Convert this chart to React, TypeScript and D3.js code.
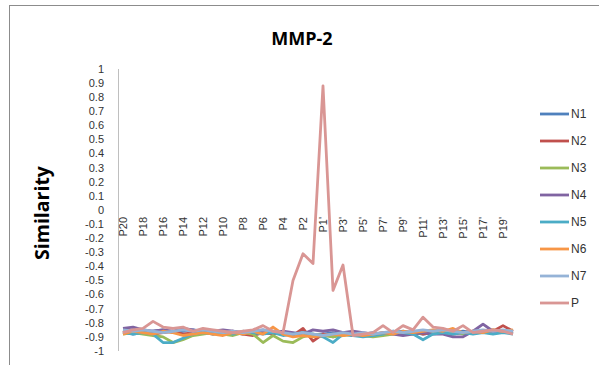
import * as d3 from 'd3';
import React, { useEffect, useRef } from 'react';

const categories: string[] = [
  'P20', 'P19', 'P18', 'P17', 'P16', 'P15', 'P14', 'P13', 'P12', 'P11',
  'P10', 'P9', 'P8', 'P7', 'P6', 'P5', 'P4', 'P3', 'P2', 'P1',
  "P1'", "P2'", "P3'", "P4'", "P5'", "P6'", "P7'", "P8'", "P9'", "P10'",
  "P11'", "P12'", "P13'", "P14'", "P15'", "P16'", "P17'", "P18'", "P19'", "P20'",
];

const seriesNames = ['N1', 'N2', 'N3', 'N4', 'N5', 'N6', 'N7', 'P'];
const seriesColors = ['#4F81BD', '#C0504D', '#9BBB59', '#8064A2', '#4BACC6', '#F79646', '#95B3D7', '#D99694'];

const N1 = [-0.86, -0.88, -0.87, -0.86, -0.85, -0.87, -0.86, -0.85, -0.86, -0.87,
  -0.86, -0.87, -0.88, -0.86, -0.87, -0.88, -0.87, -0.88, -0.87, -0.89,
  -0.88, -0.87, -0.88, -0.89, -0.88, -0.87, -0.88, -0.87, -0.86, -0.87,
  -0.88, -0.87, -0.86, -0.87, -0.86, -0.87, -0.86, -0.87, -0.86, -0.87];
const N2 = [-0.87, -0.85, -0.86, -0.88, -0.87, -0.86, -0.88, -0.87, -0.86, -0.88,
  -0.87, -0.86, -0.88, -0.89, -0.87, -0.88, -0.86, -0.89, -0.84, -0.93,
  -0.88, -0.90, -0.87, -0.89, -0.88, -0.89, -0.88, -0.87, -0.88, -0.86,
  -0.88, -0.87, -0.86, -0.88, -0.87, -0.86, -0.87, -0.86, -0.82, -0.86];
const N3 = [-0.88, -0.87, -0.88, -0.89, -0.90, -0.94, -0.92, -0.89, -0.88, -0.87,
  -0.88, -0.89, -0.87, -0.88, -0.94, -0.89, -0.93, -0.94, -0.90, -0.88,
  -0.89, -0.90, -0.89, -0.88, -0.89, -0.90, -0.89, -0.88, -0.87, -0.88,
  -0.87, -0.86, -0.87, -0.86, -0.88, -0.87, -0.86, -0.85, -0.87, -0.86];
const N4 = [-0.84, -0.83, -0.85, -0.86, -0.85, -0.86, -0.84, -0.85, -0.87, -0.86,
  -0.85, -0.86, -0.87, -0.86, -0.85, -0.87, -0.86, -0.87, -0.88, -0.85,
  -0.86, -0.85, -0.87, -0.86, -0.87, -0.88, -0.87, -0.88, -0.89, -0.88,
  -0.87, -0.88, -0.88, -0.90, -0.90, -0.86, -0.81, -0.86, -0.87, -0.86];
const N5 = [-0.87, -0.88, -0.87, -0.88, -0.94, -0.94, -0.91, -0.88, -0.87, -0.88,
  -0.87, -0.88, -0.86, -0.87, -0.88, -0.87, -0.89, -0.88, -0.87, -0.88,
  -0.90, -0.94, -0.88, -0.89, -0.90, -0.89, -0.88, -0.86, -0.87, -0.88,
  -0.92, -0.88, -0.87, -0.88, -0.87, -0.88, -0.87, -0.88, -0.87, -0.88];
const N6 = [-0.88, -0.86, -0.87, -0.88, -0.86, -0.87, -0.89, -0.88, -0.87, -0.88,
  -0.89, -0.87, -0.88, -0.86, -0.88, -0.83, -0.88, -0.90, -0.89, -0.90,
  -0.89, -0.88, -0.89, -0.88, -0.89, -0.88, -0.87, -0.88, -0.86, -0.87,
  -0.86, -0.85, -0.86, -0.84, -0.87, -0.86, -0.87, -0.85, -0.86, -0.85];
const N7 = [-0.85, -0.86, -0.85, -0.86, -0.87, -0.86, -0.85, -0.86, -0.85, -0.86,
  -0.87, -0.86, -0.87, -0.86, -0.85, -0.86, -0.87, -0.88, -0.87, -0.88,
  -0.89, -0.88, -0.87, -0.88, -0.87, -0.88, -0.87, -0.86, -0.87, -0.86,
  -0.85, -0.86, -0.85, -0.86, -0.87, -0.86, -0.85, -0.86, -0.85, -0.86];
const P = [-0.87, -0.85, -0.84, -0.79, -0.83, -0.84, -0.83, -0.86, -0.84, -0.85,
  -0.86, -0.87, -0.86, -0.85, -0.82, -0.86, -0.87, -0.50, -0.31, -0.38,
  0.88, -0.57, -0.39, -0.89, -0.88, -0.87, -0.82, -0.87, -0.82, -0.85,
  -0.76, -0.83, -0.84, -0.86, -0.82, -0.87, -0.86, -0.85, -0.86, -0.88];

const seriesValues = [N1, N2, N3, N4, N5, N6, N7, P];

const yTicks = [1, 0.9, 0.8, 0.7, 0.6, 0.5, 0.4, 0.3, 0.2, 0.1, 0,
  -0.1, -0.2, -0.3, -0.4, -0.5, -0.6, -0.7, -0.8, -0.9, -1];

const W = 599;
const H = 365;
const font = '"Liberation Sans Narrow", "Liberation Sans", Arial, sans-serif';

const App = () => {
  const ref = useRef<SVGSVGElement>(null);

  useEffect(() => {
    const svg = d3.select(ref.current);
    svg.selectAll('*').remove();

    svg.append('rect').attr('width', W).attr('height', H).attr('fill', '#fff');
    // chart frame
    svg.append('rect')
      .attr('x', 9.5).attr('y', 5.5)
      .attr('width', W + 10).attr('height', H + 10)
      .attr('fill', 'none').attr('stroke', '#8c8c8c').attr('stroke-width', 1);

    const x = d3.scaleBand<string>().domain(categories).range([118, 518]);
    const y = d3.scaleLinear().domain([-1, 1]).range([351, 69]);
    const cx = (c: string) => (x(c) as number) + x.bandwidth() / 2;

    svg.append('text')
      .attr('x', 302).attr('y', 45)
      .attr('text-anchor', 'middle')
      .attr('font-family', '"Open Sans", sans-serif')
      .attr('font-weight', 'bold').attr('font-size', 18)
      .text('MMP-2');

    svg.append('text')
      .attr('transform', `translate(49,${y(0) + 3}) rotate(-90)`)
      .attr('text-anchor', 'middle')
      .attr('font-family', '"Open Sans", sans-serif')
      .attr('font-weight', 'bold').attr('font-size', 19.5)
      .text('Similarity');

    // y axis
    svg.append('line')
      .attr('x1', 118.5).attr('x2', 118.5)
      .attr('y1', y(1)).attr('y2', y(-1))
      .attr('stroke', '#bfbfbf');

    svg.append('g').selectAll('text')
      .data(yTicks)
      .enter().append('text')
      .attr('x', 104)
      .attr('y', d => y(d))
      .attr('dy', '0.35em')
      .attr('text-anchor', 'end')
      .attr('font-family', font).attr('font-size', 11)
      .attr('fill', '#333')
      .text(d => String(d));

    // category labels, every other one
    svg.append('g').selectAll('text')
      .data(categories.filter((_, i) => i % 2 === 0))
      .enter().append('text')
      .attr('transform', d => `translate(${cx(d) + 4},${y(0) + 7}) rotate(-90)`)
      .attr('text-anchor', 'end')
      .attr('font-family', font).attr('font-size', 11)
      .attr('fill', '#333')
      .text(d => d);

    const line = d3.line<number>()
      .x((_, i) => cx(categories[i]))
      .y(d => y(d));

    seriesValues.forEach((vals, k) => {
      svg.append('path')
        .datum(vals)
        .attr('d', line)
        .attr('fill', 'none')
        .attr('stroke', seriesColors[k])
        .attr('stroke-width', 2.8)
        .attr('stroke-linejoin', 'round');
    });

    // legend
    const lg = svg.append('g').selectAll('g')
      .data(seriesNames)
      .enter().append('g')
      .attr('transform', (_, i) => `translate(540,${114 + i * 27})`);
    lg.append('line')
      .attr('x1', 0).attr('x2', 29)
      .attr('stroke', (_, i) => seriesColors[i])
      .attr('stroke-width', 2.8);
    lg.append('text')
      .attr('x', 31).attr('dy', '0.35em')
      .attr('font-family', font).attr('font-size', 12)
      .attr('fill', '#333')
      .text(d => d);
  }, []);

  return <svg ref={ref} width={W} height={H} style={{ display: 'block', position: 'absolute', left: 0, top: 0 }} />;
};

export default App;
